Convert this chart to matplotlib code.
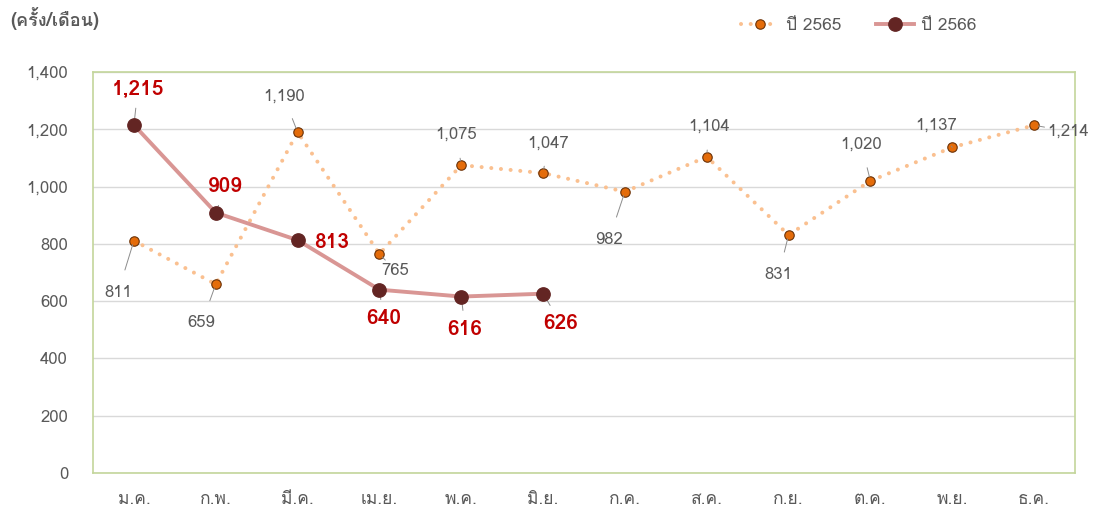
import matplotlib
matplotlib.use('Agg')
from matplotlib import pyplot
from matplotlib import font_manager
from matplotlib.ft2font import FT2Font
import numpy as np

months = ['ม.ค.', 'ก.พ.', 'มี.ค.', 'เม.ย.', 'พ.ค.', 'มิ.ย.',
          'ก.ค.', 'ส.ค.', 'ก.ย.', 'ต.ค.', 'พ.ย.', 'ธ.ค.']
y2565 = [811, 659, 1190, 765, 1075, 1047, 982, 1104, 831, 1020, 1137, 1214]
y2566 = [1215, 909, 813, 640, 616, 626]
yticks = [0, 200, 400, 600, 800, 1000, 1200, 1400]

# label offsets in pixels (dx, dy) for each point
off2565 = [(-16, -52), (-14, -39), (-14, 36), (16, -17), (-5, 30), (5, 30),
           (-16, -48), (2, 30), (-10, -40), (-9, 36), (-16, 22), (34, -6)]
off2566 = [(4, 36), (10, 26), (34, -2), (4, -29), (4, -33), (18, -30)]


def find_thai_font():
    names = []
    for f in font_manager.fontManager.ttflist:
        try:
            cmap = FT2Font(f.fname).get_charmap()
        except Exception:
            continue
        if 0x0E04 in cmap and 0x0E40 in cmap:
            names.append(f.name)
    return names


thai = find_thai_font()
fams = thai[:1] + ['DejaVu Sans']
pyplot.rcParams['font.family'] = fams

gray_txt = '#595959'
fig = pyplot.figure(figsize=(10.95, 5.18), dpi=100)
ax = fig.add_axes([93 / 1095, 1 - 473 / 518, (1075 - 93) / 1095, (473 - 72) / 518])

x = np.arange(len(months))
x2 = np.arange(len(y2566))

ax.plot(x, y2565, linestyle=(0, (0.01, 2.4)), color='#FAC090', lw=2.9,
        dash_capstyle='round', marker='o', ms=6.8, mfc='#E46C0A',
        mec='#6b3208', mew=0.8, label='ปี 2565', zorder=3)
ax.plot(x2, y2566, color='#D99694', lw=2.8, marker='o', ms=9.6,
        mfc='#632523', mec='#632523', label='ปี 2566', zorder=4)

for i, v in enumerate(y2565):
    dx, dy = off2565[i]
    ax.annotate('{:,}'.format(v), (x[i], v), xytext=(dx, dy),
                textcoords='offset pixels', ha='center', va='center',
                fontsize=12, color=gray_txt,
                arrowprops=dict(arrowstyle='-', color='#8c8c8c', lw=0.7,
                                shrinkA=9, shrinkB=3))

for i, v in enumerate(y2566):
    dx, dy = off2566[i]
    ax.annotate('{:,}'.format(v), (x2[i], v), xytext=(dx, dy),
                textcoords='offset pixels', ha='center', va='center',
                fontsize=15, color='#C00000', fontweight='bold',
                arrowprops=dict(arrowstyle='-', color='#8c8c8c', lw=0.7,
                                shrinkA=5, shrinkB=2))

ax.set_xlim(-0.5, 11.5)
ax.set_ylim(0, 1400)
ax.set_yticks(yticks)
ax.set_yticklabels(['{:,}'.format(t) for t in yticks], fontsize=12, color=gray_txt)
ax.set_xticks(x)
ax.set_xticklabels(months, fontsize=12.5, color=gray_txt)
ax.tick_params(length=0, axis='both')
ax.tick_params(axis='x', pad=14)
ax.tick_params(axis='y', pad=18)
ax.grid(axis='y', color='#d9d9d9', lw=1)
ax.set_axisbelow(True)
for s in ax.spines.values():
    s.set_color('#c3d69b')
    s.set_linewidth(1.2)

fig.text(10 / 1095, 1 - 18 / 518, '(ครั้ง/เดือน)', fontsize=13, color=gray_txt,
         fontweight='bold', va='center', ha='left')

leg = ax.legend(loc='upper right', bbox_to_anchor=((992 - 93) / 982, 1 + 70 / 401),
                ncol=2, frameon=False, fontsize=12.5, handlelength=2.2,
                columnspacing=2.0, handletextpad=0.4, labelcolor=gray_txt)

fig.savefig('out.png', dpi=100)
